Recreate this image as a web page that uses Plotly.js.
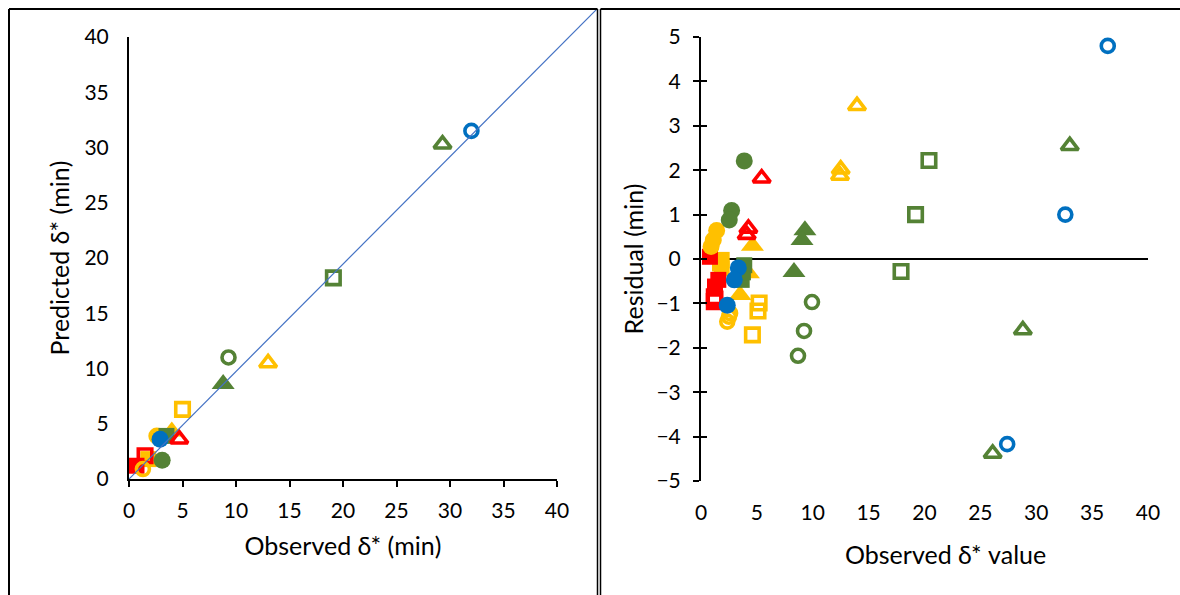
<!DOCTYPE html>
<html>
<head>
<meta charset="utf-8">
<script src="https://cdn.plot.ly/plotly-3.0.1.min.js"></script>
<style>
html,body{margin:0;padding:0;background:#fff;}
#chart{width:1180px;height:595px;}
</style>
</head>
<body>
<div id="chart"></div>
<script>
// ---- Data ----
// One entry per marker group
const groupNames = [
  'Blue open circle','Green open triangle','Green open square','Green open circle',
  'Yellow open triangle','Green filled triangle','Yellow open square','Red open triangle',
  'Yellow filled triangle','Green filled square','Blue filled circle','Yellow filled circle',
  'Green filled circle','Red open square','Red filled square','Yellow open circle','Yellow filled square'
];
// Left panel: observed vs predicted delta* (min)
const leftObserved  = [32.0, 29.3, 19.1, 9.3, 13.0, 8.8, 5.0, 4.7, 4.0, 3.5, 2.9, 2.6, 3.1, 1.5, 0.7, 1.3, 1.8];
const leftPredicted = [31.5, 30.3, 18.2, 11.0, 10.5, 8.6, 6.3, 3.6, 4.3, 3.9, 3.6, 3.9, 1.7, 2.1, 1.2, 0.9, 1.8];
// Right panel: observed delta* value vs residual (min), three per group
const resObserved = [
  [36.4, 32.6, 27.4], [33.0, 28.8, 26.1], [20.4, 19.2, 17.9], [9.93, 9.22, 8.68],
  [13.96, 12.5, 12.44], [9.3, 9.04, 8.32], [5.2, 5.1, 4.6], [5.43, 4.24, 4.09],
  [4.6, 4.24, 3.49], [3.87, 3.64, 3.75], [3.34, 2.98, 2.35], [1.4, 1.1, 0.9],
  [3.87, 2.74, 2.53], [1.19, 1.19, 1.25], [0.8, 1.55, 1.25], [2.6, 2.35, 2.5], [1.85, 1.85, 1.7]
];
const resResidual = [
  [4.8, 1.0, -4.17], [2.55, -1.6, -4.38], [2.22, 1.0, -0.28], [-0.97, -1.62, -2.18],
  [3.45, 2.02, 1.88], [0.65, 0.43, -0.29], [-0.99, -1.17, -1.71], [1.82, 0.69, 0.55],
  [0.3, -0.32, -0.81], [-0.14, -0.47, -0.3], [-0.2, -0.47, -1.04], [0.64, 0.43, 0.28],
  [2.21, 1.09, 0.88], [-0.85, -0.96, -0.9], [0.05, -0.47, -0.62], [-1.22, -1.41, -1.3], [-0.02, -0.21, -0.1]
];
// Hand-drawn reference line in the left panel (from plot origin to panel corner)
const refLineX = [0, 43.74];
const refLineY = [0, 42.53];

const tickValsLeft = [0,5,10,15,20,25,30,35,40];
const tickValsRes  = [-5,-4,-3,-2,-1,0,1,2,3,4,5];

// ---- Styles ----
const BLUE='#0070C0', GREEN='#548235', YELLOW='#FFC000', RED='#FF0000';
const groupColors = [BLUE,GREEN,GREEN,GREEN,YELLOW,GREEN,YELLOW,RED,YELLOW,GREEN,BLUE,YELLOW,GREEN,RED,RED,YELLOW,YELLOW];
const groupSymbols = ['circle-open','triangle-up-open','square-open','circle-open','triangle-up-open','triangle-up',
  'square-open','triangle-up-open','triangle-up','square','circle','circle','circle','square-open','square','circle-open','square'];
// draw order: the big cluster needs the right layering
const drawOrder = [16,14,13,15,11,8,9,12,10,7,6,5,3,4,2,1,0];

function markerFor(i){
  const sym = groupSymbols[i];
  const open = sym.indexOf('open')>=0;
  let size;
  if (sym.startsWith('circle')) size = open ? 13 : 17;
  else if (sym.startsWith('square')) size = open ? 13.5 : 16;
  else size = open ? 15 : 20;
  return {symbol:sym, size:size, color:groupColors[i], line:{color:groupColors[i], width: open?3.6:0}};
}

const W=1180, H=595;
const px = v => v/W, py = v => 1 - v/H;

const traces = [];
drawOrder.forEach(i=>{
  traces.push({type:'scatter', mode:'markers', name:groupNames[i], x:[leftObserved[i]], y:[leftPredicted[i]],
    xaxis:'x', yaxis:'y', marker:markerFor(i), cliponaxis:false, showlegend:false, hoverinfo:'x+y'});
});
drawOrder.forEach(i=>{
  traces.push({type:'scatter', mode:'markers', name:groupNames[i], x:resObserved[i], y:resResidual[i],
    xaxis:'x2', yaxis:'y2', marker:markerFor(i), cliponaxis:false, showlegend:false, hoverinfo:'x+y'});
});
// reference line on an overlay axis pair spanning to the panel corner
traces.unshift({type:'scatter', mode:'lines', x:refLineX, y:refLineY, xaxis:'x3', yaxis:'y3',
  line:{color:'#4472C4', width:1.2}, showlegend:false, hoverinfo:'skip'});
// empty trace to activate the inside-tick overlay axis on the residual plot
traces.push({type:'scatter', mode:'markers', x:[], y:[], xaxis:'x2', yaxis:'y4', showlegend:false, hoverinfo:'skip'});

const FONT = 'Lato, "Open Sans", sans-serif';
const tickFont = {family:FONT, size:21, color:'#000'};
const titleFont = {family:FONT, size:25, color:'#000'};

const layout = {
  width:W, height:H,
  margin:{l:0,r:0,t:0,b:0},
  paper_bgcolor:'#fff', plot_bgcolor:'rgba(0,0,0,0)',
  showlegend:false,
  font:{family:FONT, color:'#000'},
  xaxis:{domain:[px(129), px(557)], range:[0,40], tickvals:tickValsLeft, showgrid:false, zeroline:false,
    showline:true, linecolor:'#000', linewidth:2, ticks:'outside', ticklen:6, tickwidth:2, tickcolor:'#000',
    tickfont:tickFont, ticklabelstandoff:6, anchor:'y',
    title:{text:'Observed δ* (min)', font:titleFont, standoff:16}},
  yaxis:{domain:[py(479), py(37)], range:[0,40], tickvals:tickValsLeft, showgrid:false, zeroline:false,
    showline:true, linecolor:'#000', linewidth:2, ticks:'', tickfont:tickFont, ticklabelstandoff:14, anchor:'x',
    title:{text:'Predicted δ* (min)', font:titleFont, standoff:8}},
  xaxis2:{domain:[px(701), px(1148)], range:[0,40], tickvals:tickValsLeft, showgrid:false, zeroline:false,
    showline:false, ticks:'', tickfont:tickFont, ticklabelstandoff:17, anchor:'y2'},
  yaxis2:{domain:[py(481), py(37)], range:[-5,5], tickvals:tickValsRes, showgrid:false,
    zeroline:true, zerolinecolor:'#000', zerolinewidth:2,
    showline:true, linecolor:'#000', linewidth:2, ticks:'outside', ticklen:6, tickwidth:2, tickcolor:'#000',
    tickfont:tickFont, ticklabelstandoff:8, anchor:'x2',
    title:{text:'Residual (min)', font:titleFont, standoff:6}},
  yaxis4:{domain:[py(481), py(37)], range:[-5,5], tickvals:tickValsRes, overlaying:'y2', anchor:'x2', side:'left',
    showgrid:false, zeroline:false, showline:false, ticks:'inside', ticklen:6, tickwidth:2, tickcolor:'#000',
    showticklabels:false},
  xaxis3:{domain:[px(129), px(597)], range:[0,43.74], visible:false, anchor:'y3', fixedrange:true},
  yaxis3:{domain:[py(479), py(9)], range:[0,42.53], visible:false, anchor:'x3', fixedrange:true},
  annotations:[
    {text:'Observed δ* value', xref:'paper', yref:'paper', x:px(945), y:py(554), xanchor:'center', yanchor:'middle',
     showarrow:false, font:titleFont}
  ],
  shapes:[
    // left panel border (left, top, right)
    {type:'line', xref:'paper', yref:'paper', x0:px(9), x1:px(9), y0:py(9), y1:py(600), line:{color:'#000', width:2}},
    {type:'line', xref:'paper', yref:'paper', x0:px(9), x1:px(597.5), y0:py(9), y1:py(9), line:{color:'#000', width:2}},
    {type:'line', xref:'paper', yref:'paper', x0:px(597.5), x1:px(597.5), y0:py(9), y1:py(600), line:{color:'#000', width:1.5}},
    // right panel border (left, top)
    {type:'line', xref:'paper', yref:'paper', x0:px(600.5), x1:px(600.5), y0:py(9), y1:py(600), line:{color:'#000', width:1.5}},
    {type:'line', xref:'paper', yref:'paper', x0:px(600.5), x1:px(1181), y0:py(9), y1:py(9), line:{color:'#000', width:2}}
  ]
};

Plotly.newPlot('chart', traces, layout, {displayModeBar:false, staticPlot:true});
</script>
</body>
</html>
